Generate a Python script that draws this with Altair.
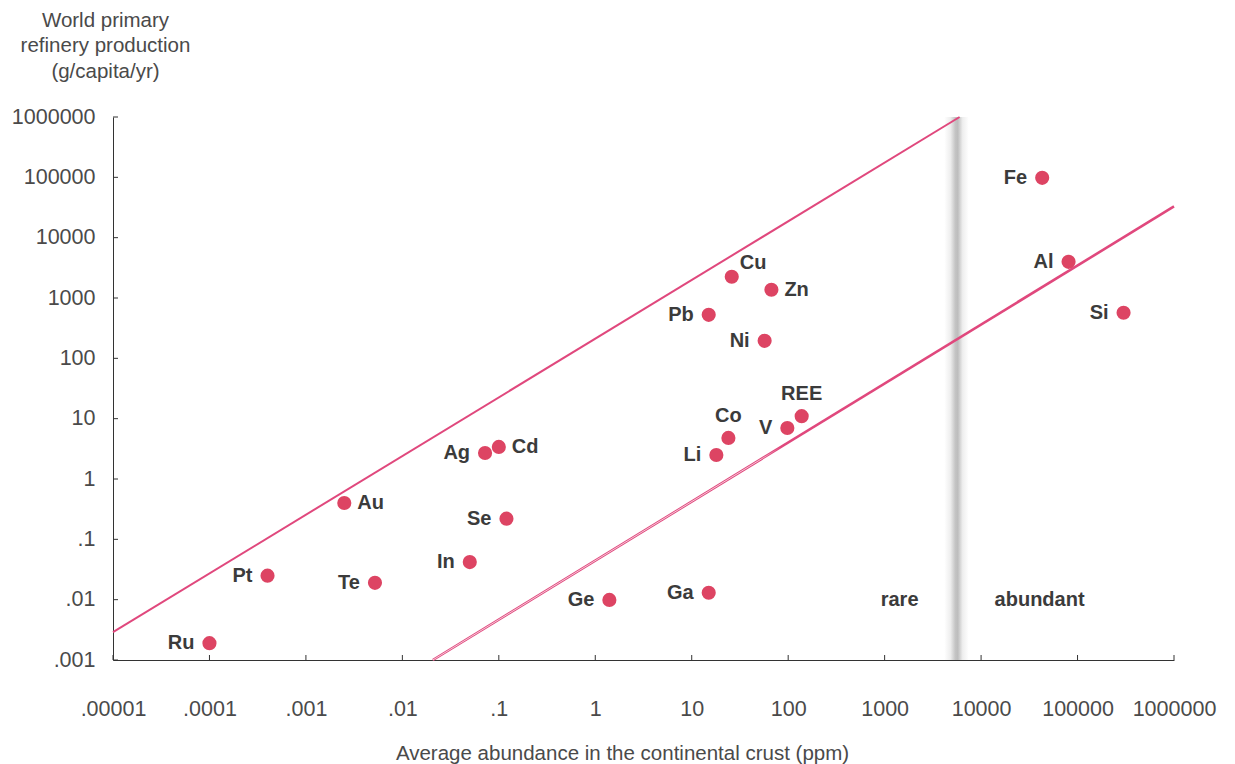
import altair as alt
import pandas as pd

# Elements: crustal abundance (ppm) vs world primary refinery production (g/capita/yr)
elements = ["Ru", "Pt", "Au", "Te", "In", "Se", "Ag", "Cd", "Ge", "Ga", "Li",
            "Co", "V", "REE", "Pb", "Ni", "Cu", "Zn", "Fe", "Al", "Si"]
abundance_ppm = [0.0001, 0.0004, 0.0025, 0.0052, 0.05, 0.12, 0.072, 0.1, 1.4, 15, 18,
                 24, 98, 138, 15, 57, 26, 67, 43000, 80700, 300000]
production = [0.0019, 0.025, 0.40, 0.019, 0.042, 0.22, 2.7, 3.4, 0.0099, 0.013, 2.5,
              4.8, 7.0, 11, 526, 195, 2250, 1370, 98000, 3980, 570]
label_side = ["left", "left", "right", "left", "left", "left", "left", "right", "left", "left", "left",
              "top", "left", "top", "left", "left", "topright", "right", "left", "left", "left"]

# Two reference lines bounding the cloud of elements
upper_abundance = [1e-5, 5985]
upper_production = [0.0029, 1e6]
lower_abundance = [0.0207, 1e6]
lower_production = [0.001, 32900]

# Boundary between rare and abundant elements (ppm) and its shaded band
band_lo, band_hi = 4150, 7450
region_names = ["rare", "abundant"]
region_abundance = [1430, 40400]
region_production = [0.01, 0.01]

x_ticks = [1e-5, 1e-4, 1e-3, 1e-2, 1e-1, 1, 10, 100, 1000, 10000, 100000, 1000000]
y_ticks = [1e-3, 1e-2, 1e-1, 1, 10, 100, 1000, 10000, 100000, 1000000]

W, H = 1061, 543
FONT = "Liberation Sans"
POINT_RED = "#dd4463"
LINE_PINK = "#e0487d"
LABEL_GREY = "#3b3b3b"
AXIS_GREY = "#4a4a4a"

pts = pd.DataFrame({"element": elements, "abundance": abundance_ppm,
                    "production": production, "side": label_side})
upper = pd.DataFrame({"abundance": upper_abundance, "production": upper_production})
lower = pd.DataFrame({"abundance": lower_abundance, "production": lower_production})
band = pd.DataFrame({"abundance": [band_lo], "hi": [band_hi]})
regions = pd.DataFrame({"name": region_names, "abundance": region_abundance,
                        "production": region_production})
xt = pd.DataFrame({"abundance": x_ticks})
yt = pd.DataFrame({"production": y_ticks})

xscale = alt.Scale(type="log", domain=[1e-5, 1e6], nice=False)
yscale = alt.Scale(type="log", domain=[1e-3, 1e6], nice=False)
label_expr = "replace(format(datum.value, '.5~f'), /^0\\./, '.')"

x_axis = alt.Axis(
    values=x_ticks, ticks=False, grid=False, labelExpr=label_expr,
    labelPadding=38, labelFontSize=21.5, labelFont=FONT, labelColor=AXIS_GREY,
    labelFlush=False, labelOverlap=False,
    domainColor="#333333", domainWidth=1,
    title="Average abundance in the continental crust (ppm)",
    titleFont=FONT, titleFontSize=20.5, titleFontWeight="normal", titleColor=AXIS_GREY,
    titleX=509, titleY=99, titleAlign="center", titleBaseline="alphabetic",
)
y_axis = alt.Axis(
    values=y_ticks, ticks=False, grid=False, labelExpr=label_expr,
    labelPadding=18, labelFontSize=21.5, labelFont=FONT, labelColor=AXIS_GREY,
    labelFlush=False, labelOverlap=False,
    domainColor="#333333", domainWidth=1,
    title=["World primary", "refinery production", "(g/capita/yr)"],
    titleFont=FONT, titleFontSize=20.5, titleFontWeight="normal", titleColor=AXIS_GREY,
    titleAngle=0, titleX=-8, titleY=-91, titleAlign="center", titleBaseline="alphabetic",
    titleLineHeight=25.5,
)


def X():
    return alt.X("abundance:Q", scale=xscale, axis=x_axis)


def Y():
    return alt.Y("production:Q", scale=yscale, axis=y_axis)


band_fill = alt.LinearGradient(
    gradient="linear", x1=0, x2=1, y1=0, y2=0,
    stops=[alt.GradientStop(color="#ffffff", offset=0),
           alt.GradientStop(color="#eeeeee", offset=0.25),
           alt.GradientStop(color="#c4c4c4", offset=0.45),
           alt.GradientStop(color="#bdbdbd", offset=0.55),
           alt.GradientStop(color="#eeeeee", offset=0.75),
           alt.GradientStop(color="#ffffff", offset=1)])
band_layer = alt.Chart(band).mark_rect(color=band_fill).encode(
    x=X(), x2="hi:Q", y=alt.value(0), y2=alt.value(H))

upper_line = alt.Chart(upper).mark_line(color=LINE_PINK, strokeWidth=2).encode(x=X(), y=Y())
lower_line = alt.Chart(lower).mark_line(color=LINE_PINK, strokeWidth=2.6).encode(x=X(), y=Y())
# thin light core along the lower-left stretch of the lower line
core = alt.LinearGradient(
    gradient="linear", x1=0, x2=1, y1=0, y2=0,
    stops=[alt.GradientStop(color="#ffffff", offset=0),
           alt.GradientStop(color="#ffffff", offset=0.44),
           alt.GradientStop(color=LINE_PINK, offset=0.47),
           alt.GradientStop(color=LINE_PINK, offset=1)])
lower_core = alt.Chart(lower).mark_line(color=core, strokeWidth=0.7).encode(x=X(), y=Y())

x_tick_marks = alt.Chart(xt).mark_rule(color="#333333", strokeWidth=1).encode(
    x=X(), y=alt.value(H), y2=alt.value(H - 5))
y_tick_marks = alt.Chart(yt).mark_rule(color="#333333", strokeWidth=1).encode(
    y=Y(), x=alt.value(0), x2=alt.value(5))

points = alt.Chart(pts).mark_circle(size=200, color=POINT_RED, opacity=1).encode(x=X(), y=Y())

txt = dict(font=FONT, fontSize=20, fontWeight="bold", color=LABEL_GREY, baseline="middle")
base_txt = alt.Chart(pts).encode(x=X(), y=Y(), text="element:N")
lab_left = base_txt.transform_filter(alt.datum.side == "left").mark_text(align="right", dx=-15, **txt)
lab_right = base_txt.transform_filter(alt.datum.side == "right").mark_text(align="left", dx=13, **txt)
lab_top = base_txt.transform_filter(alt.datum.side == "top").mark_text(align="center", dy=-22, **txt)
lab_tr = base_txt.transform_filter(alt.datum.side == "topright").mark_text(align="left", dx=8, dy=-14, **txt)

region_text = alt.Chart(regions).mark_text(align="center", **txt).encode(
    x=X(), y=Y(), text="name:N")

chart = alt.layer(
    band_layer, upper_line, lower_line, lower_core,
    x_tick_marks, y_tick_marks, points,
    lab_left, lab_right, lab_top, lab_tr, region_text,
).properties(
    width=W, height=H,
    background="white",
    autosize=alt.AutoSizeParams(type="none"),
    padding={"left": 113, "top": 117, "right": 61, "bottom": 104},
).configure_view(stroke=None)

chart.save("out.html", embed_options={"renderer": "svg", "actions": False})
